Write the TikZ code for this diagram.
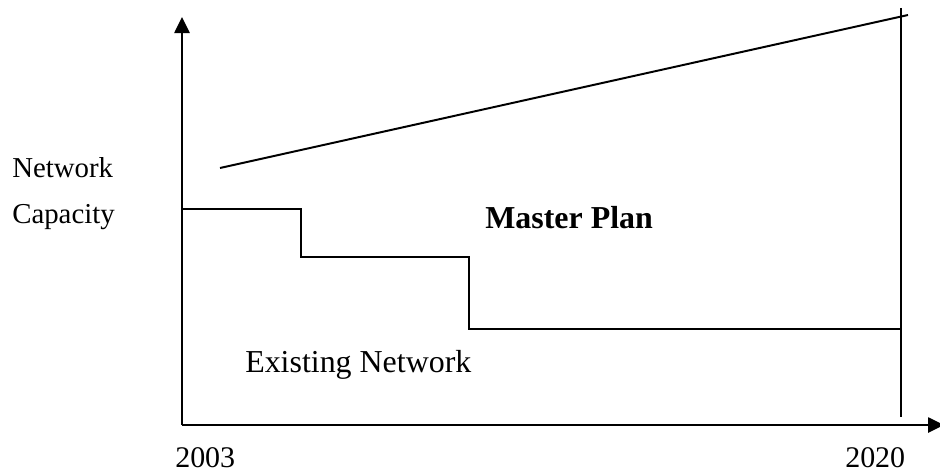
\documentclass[tikz,border=0pt]{standalone}
\usepackage{fontspec}
\setmainfont{Liberation Serif}
\usepackage{tikz}
\usetikzlibrary{arrows.meta, positioning}

\tikzset{
    linea/.style={line width=1.4pt},
    eje/.style={line width=1.4pt, -{Triangle[length=0.4cm, width=0.38cm]}},
    rotulo/.style={anchor=base west, inner sep=0pt, font=\fontsize{20.5}{24}\selectfont},
    texto/.style={anchor=base west, inner sep=0pt, font=\fontsize{22.7}{27}\selectfont},
    anio/.style={anchor=base west, inner sep=0pt, font=\fontsize{21.3}{25}\selectfont}
}

\begin{document}
\begin{tikzpicture}[x=0.025cm, y=-0.025cm]
        % Marco fijo (940 x 473 px)
        \useasboundingbox (0,0) rectangle (940,473);

        % Puntos de los ejes
        \coordinate (origen) at (182,425);
        \coordinate (ytope) at (182,17);
        \coordinate (xfin) at (944,425);

        % Ejes
        \draw[eje] (origen) -- (ytope);
        \draw[eje] (origen) -- (xfin);

        % Linea vertical de 2020
        \coordinate (fin arriba) at (901,8);
        \coordinate (fin abajo) at (901,417);
        \draw[linea] (fin arriba) -- (fin abajo);

        % Linea del plan maestro
        \coordinate (plan ini) at (220,168);
        \coordinate (plan fin) at (908,15);
        \draw[linea] (plan ini) -- (plan fin);

        % Escalones de la red existente
        \coordinate (e0) at (182,209);
        \coordinate (e1) at (301,209);
        \coordinate (e2) at (301,257);
        \coordinate (e3) at (469,257);
        \coordinate (e4) at (469,329);
        \coordinate (e5) at (901,329);
        \draw[linea] (e0) -- (e1) -- (e2) -- (e3) -- (e4) -- (e5);

        % Textos
        \node[rotulo] (red) at (12,177) {Network};
        \node[rotulo] (capacidad) at (12,223) {Capacity};
        \node[texto, font=\fontsize{22.7}{27}\selectfont\bfseries] (plan) at (485,228) {Master Plan};
        \node[texto] (existente) at (245,372) {Existing Network};
        \node[anio] (inicio) at (175,467) {2003};
        \node[anio] (final) at (845,467) {2020};
    \end{tikzpicture}
\end{document}
